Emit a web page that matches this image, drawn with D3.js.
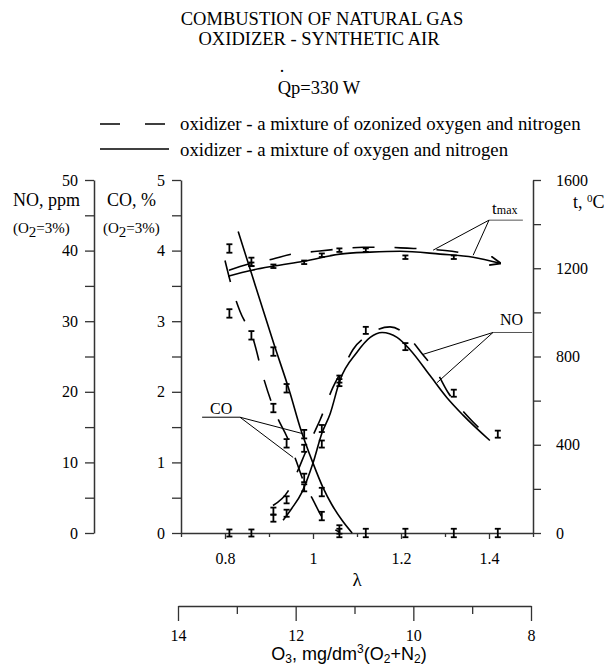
<!DOCTYPE html>
<html>
<head>
<meta charset="utf-8">
<script src="https://cdn.jsdelivr.net/npm/d3@7"></script>
<style>
  body { margin: 0; background: #fff; }
  svg { display: block; }
  text { font-family: "Liberation Serif", "Times New Roman", serif; fill: #000; }
</style>
</head>
<body>
<div id="chart"></div>
<script>
var lamPts      = [0.81, 0.86, 0.91, 0.94, 0.98, 1.02, 1.06, 1.12, 1.21, 1.32, 1.42];
var coSolidPts  = [4.03, 3.84, 2.57, 2.05, 1.40, 0.58, 0.05, 0, 0, 0, 0];
var noSolidPts  = [0, 0, 2.1, 2.8, 6.4, 12.6, 21.3, 28.7, 26.4, 19.8, 14.0];
var coDashLam   = [0.81, 0.86, 0.91, 0.94, 0.98, 1.02, 1.06];
var coDashPts   = [3.11, 2.80, 1.77, 1.27, 0.78, 0.24, 0];
var noDashLam   = [0.91, 0.94, 0.98, 1.02, 1.06];
var noDashPts   = [3.1, 4.7, 12.0, 14.8, 21.8];
var tLam        = [0.86, 0.91, 0.98, 1.02, 1.06, 1.12, 1.21, 1.32];
var tPts        = [1218, 1209, 1227, 1259, 1282, 1282, 1250, 1250];

// fitted curves (lambda, value)
var coSolidCurve = [[0.83,4.27],[0.861,3.66],[0.911,2.68],[0.948,1.98],[0.97,1.51],[1.0,0.99],[1.023,0.64],[1.043,0.40],[1.066,0.18],[1.089,0]];
var coDashCurve  = [[0.80,3.86],[0.818,3.43],[0.834,3.14],[0.864,2.75],[0.886,2.23],[0.918,1.65],[0.941,1.36],[0.959,1.07],[0.982,0.68],[1.0,0.47],[1.02,0.23],[1.061,0.01]];
var noSolidCurve = [[0.932,1.8],[0.952,3.5],[0.975,5.8],[1.0,9.9],[1.02,14.1],[1.039,16.9],[1.061,21.6],[1.1,25.6],[1.13,27.7],[1.157,28.4],[1.191,27.7],[1.22,26.0],[1.266,22.3],[1.304,19.2],[1.341,16.7],[1.402,13.1]];
var noDashCurve  = [[0.909,3.9],[0.943,5.9],[0.966,8.9],[0.982,11.3],[1.005,14.5],[1.016,16.0],[1.045,20.6],[1.068,23.3],[1.091,26.0],[1.125,28.0],[1.175,29.2],[1.218,27.7],[1.248,25.4],[1.282,22.7],[1.307,19.9],[1.339,17.4],[1.38,14.7]];
var tSolidCurve  = [[0.807,1164],[0.861,1191],[0.909,1209],[0.98,1232],[1.061,1264],[1.13,1273],[1.198,1277],[1.289,1264],[1.364,1250],[1.425,1223]];
var tDashCurve   = [[0.809,1191],[0.852,1218],[0.907,1241],[0.952,1264],[1.009,1277],[1.052,1286],[1.114,1295],[1.164,1295],[1.214,1291],[1.266,1286],[1.316,1277],[1.364,1259]];

// axis ticks
var lamTicks = [0.7, 0.8, 0.9, 1.0, 1.1, 1.2, 1.3, 1.4, 1.5];
var lamLabels = [0.8, 1.0, 1.2, 1.4];
var noTicks = [0, 5, 10, 15, 20, 25, 30, 35, 40, 45, 50];
var coTicks = [0, 0.5, 1, 1.5, 2, 2.5, 3, 3.5, 4, 4.5, 5];
var tTicks = [0, 200, 400, 600, 800, 1000, 1200, 1400, 1600];
var o3Ticks = [14, 13, 12, 11, 10, 9, 8];

var svg = d3.select("#chart").append("svg")
  .attr("width", 611).attr("height", 670);

var x = d3.scaleLinear().domain([0.7, 1.5]).range([181, 533]);
var yNO = d3.scaleLinear().domain([0, 50]).range([533, 180]);
var yCO = d3.scaleLinear().domain([0, 5]).range([533, 180]);
var yT = d3.scaleLinear().domain([0, 1600]).range([533, 180]);
var xO3 = d3.scaleLinear().domain([14, 8]).range([178, 531]);

// titles
svg.append("text").attr("x", 322).attr("y", 25).attr("text-anchor", "middle")
  .style("font-size", "18.5px").text("COMBUSTION OF NATURAL GAS");
svg.append("text").attr("x", 319).attr("y", 45).attr("text-anchor", "middle")
  .style("font-size", "18.5px").text("OXIDIZER - SYNTHETIC AIR");
svg.append("text").attr("x", 282).attr("y", 72).attr("text-anchor", "middle")
  .style("font-size", "18px").text(".");
svg.append("text").attr("x", 319).attr("y", 94).attr("text-anchor", "middle")
  .style("font-size", "18.5px").text("Qp=330 W");

// legend
svg.append("line").attr("x1", 100).attr("x2", 169).attr("y1", 124).attr("y2", 124)
  .attr("stroke", "#000").attr("stroke-width", 1.6).attr("stroke-dasharray", "20,25");
svg.append("text").attr("x", 180).attr("y", 130).style("font-size", "18.8px")
  .text("oxidizer - a mixture of ozonized oxygen and nitrogen");
svg.append("line").attr("x1", 100).attr("x2", 169).attr("y1", 149).attr("y2", 149)
  .attr("stroke", "#000").attr("stroke-width", 1.6);
svg.append("text").attr("x", 180).attr("y", 156).style("font-size", "18.8px")
  .text("oxidizer - a mixture of oxygen and nitrogen");

function styleAxis(g) {
  g.selectAll("path.domain").attr("stroke", "#333").attr("stroke-width", 1.5);
  g.selectAll(".tick line").attr("stroke", "#333").attr("stroke-width", 1.3);
  g.selectAll(".tick text").style("font-family", "Liberation Serif").style("font-size", "16px").attr("fill", "#000");
}

// NO axis
var gNO = svg.append("g").attr("transform", "translate(94,0)")
  .call(d3.axisLeft(yNO).tickValues(noTicks).tickSize(9).tickSizeOuter(0).tickPadding(7)
    .tickFormat(function(d) { return d % 10 === 0 ? d : ""; }));
styleAxis(gNO);

// CO axis
var gCO = svg.append("g").attr("transform", "translate(181,0)")
  .call(d3.axisLeft(yCO).tickValues(coTicks).tickSize(9).tickSizeOuter(0).tickPadding(7)
    .tickFormat(function(d) { return Number.isInteger(d) ? d : ""; }));
styleAxis(gCO);

// t axis
var gT = svg.append("g").attr("transform", "translate(533,0)")
  .call(d3.axisRight(yT).tickValues(tTicks).tickSize(8).tickSizeOuter(0).tickPadding(15)
    .tickFormat(function(d) { return d % 400 === 0 ? d : ""; }));
styleAxis(gT);

// lambda axis
var gX = svg.append("g").attr("transform", "translate(0,533)")
  .call(d3.axisBottom(x).tickValues(lamTicks).tickSize(6).tickSizeOuter(0).tickPadding(14)
    .tickFormat(function(d) { return lamLabels.indexOf(d) >= 0 ? d3.format("~g")(d) : ""; }));
styleAxis(gX);
gX.selectAll(".tick line").attr("y2", function(d) { return lamLabels.indexOf(d) >= 0 ? 6 : 4; });

// O3 axis
var gO = svg.append("g").attr("transform", "translate(0,606)")
  .call(d3.axisBottom(xO3).tickValues(o3Ticks).tickSize(15).tickSizeOuter(0).tickPadding(9)
    .tickFormat(function(d) { return d % 2 === 0 ? d : ""; }));
styleAxis(gO);
gO.selectAll(".tick line").attr("y2", function(d) { return d % 2 === 0 ? 15 : 8; });

// axis titles
svg.append("text").attr("x", 13).attr("y", 206).style("font-size", "18px").text("NO, ppm");
svg.append("text").attr("x", 107).attr("y", 206).style("font-size", "18px").text("CO, %");
[13, 103].forEach(function(px) {
  var s = svg.append("text").attr("x", px).attr("y", 233).style("font-size", "15px");
  s.append("tspan").text("(O");
  s.append("tspan").attr("dy", 4).text("2");
  s.append("tspan").attr("dy", -4).text("=3%)");
});
var tt = svg.append("text").attr("x", 573).attr("y", 208).style("font-size", "18px");
tt.append("tspan").text("t, ");
tt.append("tspan").attr("dy", -6).style("font-size", "11px").text("0");
tt.append("tspan").attr("dy", 6).text("C");

svg.append("text").attr("x", 357).attr("y", 586).attr("text-anchor", "middle")
  .style("font-size", "19px").text("λ");

var ot = svg.append("text").attr("x", 349).attr("y", 660).attr("text-anchor", "middle")
  .style("font-family", "Liberation Sans").style("font-size", "18px");
ot.append("tspan").text("O");
ot.append("tspan").attr("dy", 3).style("font-size", "12px").text("3");
ot.append("tspan").attr("dy", -3).text(", mg/dm");
ot.append("tspan").attr("dy", -7).style("font-size", "12px").text("3");
ot.append("tspan").attr("dy", 7).text("(O");
ot.append("tspan").attr("dy", 3).style("font-size", "12px").text("2");
ot.append("tspan").attr("dy", -3).text("+N");
ot.append("tspan").attr("dy", 3).style("font-size", "12px").text("2");
ot.append("tspan").attr("dy", -3).text(")");

// arrow marker for t curve end
svg.append("defs").append("marker")
  .attr("id", "arrow").attr("viewBox", "0 0 10 10").attr("refX", 9).attr("refY", 5)
  .attr("markerWidth", 7).attr("markerHeight", 7).attr("orient", "auto")
  .append("path").attr("d", "M0,1 L10,5 L0,9").attr("fill", "none").attr("stroke", "#000").attr("stroke-width", 1.6);

// curves
function drawCurve(data, yScale, dashed, arrow) {
  var line = d3.line()
    .x(function(d) { return x(d[0]); })
    .y(function(d) { return yScale(d[1]); })
    .curve(d3.curveMonotoneX);
  var p = svg.append("path").datum(data)
    .attr("d", line)
    .attr("fill", "none")
    .attr("stroke", "#000")
    .attr("stroke-width", 1.6);
  if (dashed) p.attr("stroke-dasharray", "22,20");
  if (arrow) p.attr("marker-end", "url(#arrow)");
}
drawCurve(tSolidCurve, yT, false, true);
drawCurve(tDashCurve, yT, true, false);
drawCurve(coSolidCurve, yCO, false, false);
drawCurve(coDashCurve, yCO, true, false);
drawCurve(noSolidCurve, yNO, false, false);
drawCurve(noDashCurve, yNO, true, false);

// error-bar markers
function drawPoints(lams, vals, yScale, err) {
  var g = svg.append("g").attr("stroke", "#000").attr("stroke-width", 1.8);
  lams.forEach(function(l, i) {
    var cx = x(l), y0 = yScale(vals[i] + err), y1 = yScale(Math.max(vals[i] - err, -err));
    g.append("line").attr("x1", cx).attr("x2", cx).attr("y1", y0).attr("y2", y1);
    g.append("line").attr("x1", cx - 3).attr("x2", cx + 3).attr("y1", y0).attr("y2", y0);
    g.append("line").attr("x1", cx - 3).attr("x2", cx + 3).attr("y1", y1).attr("y2", y1);
  });
}
drawPoints(lamPts, coSolidPts, yCO, 0.06);
drawPoints(coDashLam, coDashPts, yCO, 0.06);
drawPoints(lamPts, noSolidPts, yNO, 0.5);
drawPoints(noDashLam, noDashPts, yNO, 0.5);
drawPoints(tLam, tPts, yT, 8);

// annotations with leader lines
function leader(x0, y0, x1, y1, col) {
  svg.append("line").attr("x1", x0).attr("y1", y0).attr("x2", x1).attr("y2", y1)
    .attr("stroke", col || "#000").attr("stroke-width", 1);
}
// CO
svg.append("text").attr("x", x(0.766)).attr("y", yCO(1.69)).style("font-size", "16px").text("CO");
leader(x(0.748), yCO(1.64), x(0.834), yCO(1.64));
leader(x(0.834), yCO(1.64), x(0.975), yCO(1.41));
leader(x(0.834), yCO(1.64), x(0.955), yCO(1.07));
// NO
svg.append("text").attr("x", x(1.425)).attr("y", yNO(29.4)).style("font-size", "16px").text("NO");
leader(x(1.409), yNO(28.4), x(1.498), yNO(28.4), "#555");
leader(x(1.409), yNO(28.4), x(1.25), yNO(25.3));
leader(x(1.409), yNO(28.4), x(1.282), yNO(21.3));
// tmax
var tm = svg.append("text").attr("x", x(1.407)).attr("y", yT(1445)).style("font-size", "17px");
tm.append("tspan").text("t");
tm.append("tspan").style("font-size", "12px").text("max");
leader(x(1.4), yT(1418), x(1.477), yT(1418), "#555");
leader(x(1.4), yT(1418), x(1.364), yT(1259));
leader(x(1.4), yT(1418), x(1.273), yT(1282));
</script>
</body>
</html>
